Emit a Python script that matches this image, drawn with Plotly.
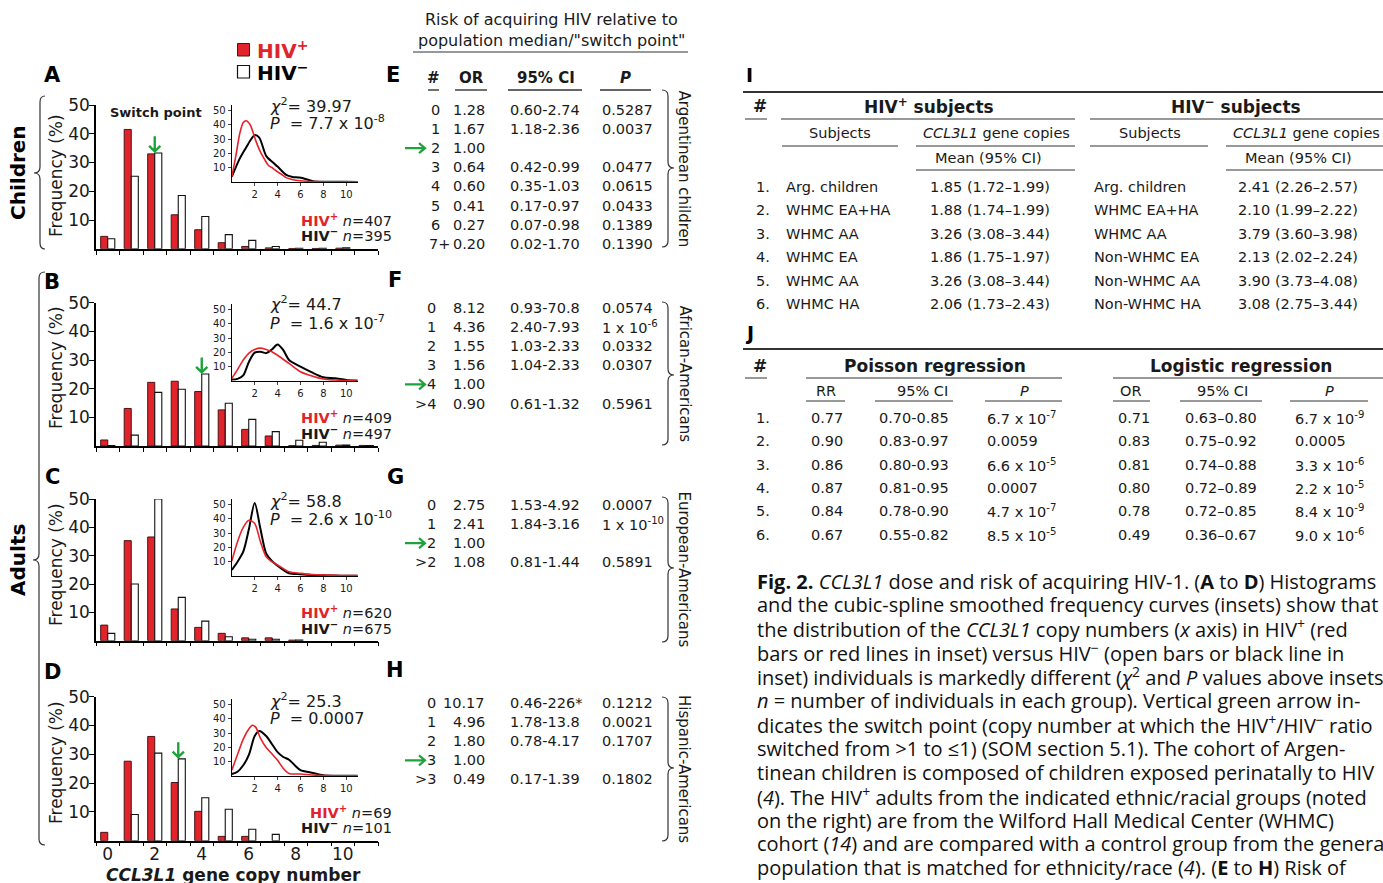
import plotly.graph_objects as go

W, H = 1383, 883
FONT = "DejaVu Sans"
CAPFONT = "Open Sans"
RED = "#e1232b"
GREEN = "#1ea33c"
INK = "#1a1a1a"

# ---------------- data: histograms (A-D) ----------------
copies = list(range(12))
A_pos = [4.3, 41.5, 33.0, 11.8, 6.6, 2.1, 0.8, 0.3, 0.1, 0.1, 0.2, None]
A_neg = [3.5, 25.2, 33.3, 18.5, 11.2, 4.9, 2.9, 0.8, 0.2, 0.2, 0.3, None]
B_pos = [2.1, 13.1, 22.2, 22.6, 19.0, 12.6, 5.8, 3.5, 0.1, 0.2, 0.3, 0.2]
B_neg = [0.2, 3.8, 18.7, 19.8, 25.1, 14.9, 9.3, 5.0, 2.0, 1.3, 0.3, 0.2]
C_pos = [5.5, 35.3, 36.6, 11.2, 4.7, 2.6, 1.0, 1.0, 0.2, None, None, None]
C_neg = [2.6, 20.0, 50.0, 15.3, 6.9, 1.4, 0.5, 0.5, 0.2, None, None, None]
D_pos = [2.9, 27.6, 36.2, 20.2, 10.2, 1.5, 1.5, None, None, None, None, None]
D_neg = [None, 9.1, 30.4, 28.4, 14.9, 10.9, 4.0, 2.2, None, None, None, None]
switch_points = [2, 4, 2, 3]
n_pos = [407, 409, 620, 69]
n_neg = [395, 497, 675, 101]
chi2 = ["39.97", "44.7", "58.8", "25.3"]
pvals = ["7.7 x 10<sup>-8</sup>", "1.6 x 10<sup>-7</sup>", "2.6 x 10<sup>-10</sup>", "0.0007"]
xtick_vals = [0, 2, 4, 6, 8, 10]
ytick_vals = [10, 20, 30, 40, 50]

# ---------------- data: inset smoothed curves ----------------
A_red_x = [0, 0.35, 0.7, 1.0, 1.25, 1.6, 2.1, 2.5, 2.85, 3.2, 3.6, 4.0, 4.4, 4.75, 5.2, 5.6, 6.0, 6.5, 7.4, 8, 9, 10, 11]
A_red_y = [3.5, 18, 34, 41.5, 42.8, 40, 28.7, 21, 15.9, 11.5, 9.5, 7.0, 5.0, 3.0, 1.8, 1.2, 0.8, 0.5, 0.2, 0.1, 0.1, 0.1, 0]
A_blk_x = [0, 0.67, 1.25, 1.7, 2.0, 2.4, 3.0, 3.6, 4.0, 4.75, 5.3, 5.9, 6.5, 7.1, 8, 9, 10, 11]
A_blk_y = [3.5, 15.9, 24, 30, 32.7, 31, 18.2, 13.5, 10.7, 4.9, 3.5, 3.0, 1.9, 0.5, 0.1, 0.1, 0.1, 0]
B_red_x = [0, 0.5, 1, 1.5, 2, 2.5, 3, 3.5, 4, 5, 6, 7, 8, 9, 10, 11]
B_red_y = [1.9, 8, 14.7, 19.5, 22, 23, 22, 20.5, 18, 12.3, 6.5, 3.5, 1.4, 0.7, 0.3, 0]
B_blk_x = [0, 0.5, 1, 1.5, 2, 2.5, 3, 3.5, 4, 4.5, 5, 6, 7, 8, 9, 10, 11]
B_blk_y = [1, 1.5, 4, 13.5, 19.8, 20.5, 19.5, 22, 25.5, 21.6, 14.7, 10, 6, 2.6, 1.9, 0.7, 0.3]
C_red_x = [0, 0.5, 1, 1.5, 2, 2.5, 3, 3.5, 4, 5, 6, 7, 8, 9, 10, 11]
C_red_y = [10.5, 24, 34, 39, 36.7, 24, 13.5, 10, 7.7, 3, 1.9, 1, 0.7, 0.5, 0.3, 0.3]
C_blk_x = [0, 0.5, 1, 1.5, 2, 2.5, 3, 3.5, 4, 4.5, 5, 6, 7, 8, 9, 10, 11]
C_blk_y = [4.2, 10, 17, 33, 51, 33, 15.8, 10.5, 7.2, 4.2, 1.9, 1.2, 0.7, 0.5, 0.3, 0.2, 0.2]
D_red_x = [0, 0.5, 1, 1.5, 1.8, 2.1, 2.5, 3, 3.5, 4, 4.5, 5, 6, 7, 8, 9, 10, 11]
D_red_y = [4.1, 15, 25.8, 33, 35.5, 34, 26.5, 20, 15.5, 11, 5.3, 1.8, 1.4, 0.7, 0.3, 0.2, 0.2, 0.2]
D_blk_x = [0, 0.5, 1, 1.5, 2, 2.4, 3, 3.5, 4, 4.5, 5, 5.5, 6, 7, 8, 9, 10, 11]
D_blk_y = [1.4, 3, 7.5, 15, 28, 31.5, 28, 22.4, 16.7, 13.3, 11.4, 7.5, 4.1, 2.3, 0.5, 0.2, 0.2, 0.2]
inset_xticks = [2, 4, 6, 8, 10]
inset_yticks = [10, 20, 30, 40, 50]

# ---------------- data: risk tables (E-H) ----------------
E_copies = ["0", "1", "2", "3", "4", "5", "6", "7+"]
E_or = ["1.28", "1.67", "1.00", "0.64", "0.60", "0.41", "0.27", "0.20"]
E_ci = ["0.60-2.74", "1.18-2.36", "", "0.42-0.99", "0.35-1.03", "0.17-0.97", "0.07-0.98", "0.02-1.70"]
E_p = ["0.5287", "0.0037", "", "0.0477", "0.0615", "0.0433", "0.1389", "0.1390"]
F_copies = ["0", "1", "2", "3", "4", "&gt;4"]
F_or = ["8.12", "4.36", "1.55", "1.56", "1.00", "0.90"]
F_ci = ["0.93-70.8", "2.40-7.93", "1.03-2.33", "1.04-2.33", "", "0.61-1.32"]
F_p = ["0.0574", "1 x 10<sup>-6</sup>", "0.0332", "0.0307", "", "0.5961"]
G_copies = ["0", "1", "2", "&gt;2"]
G_or = ["2.75", "2.41", "1.00", "1.08"]
G_ci = ["1.53-4.92", "1.84-3.16", "", "0.81-1.44"]
G_p = ["0.0007", "1 x 10<sup>-10</sup>", "", "0.5891"]
H_copies = ["0", "1", "2", "3", "&gt;3"]
H_or = ["10.17", "4.96", "1.80", "1.00", "0.49"]
H_ci = ["0.46-226*", "1.78-13.8", "0.78-4.17", "", "0.17-1.39"]
H_p = ["0.1212", "0.0021", "0.1707", "", "0.1802"]
risk_groups = ["Argentinean children", "African-Americans", "European-Americans", "Hispanic-Americans"]

# ---------------- data: table I ----------------
I_num = ["1.", "2.", "3.", "4.", "5.", "6."]
I_pos_subj = ["Arg. children", "WHMC EA+HA", "WHMC AA", "WHMC EA", "WHMC AA", "WHMC HA"]
I_pos_mean = ["1.85 (1.72–1.99)", "1.88 (1.74–1.99)", "3.26 (3.08–3.44)", "1.86 (1.75–1.97)", "3.26 (3.08–3.44)", "2.06 (1.73–2.43)"]
I_neg_subj = ["Arg. children", "WHMC EA+HA", "WHMC AA", "Non-WHMC EA", "Non-WHMC AA", "Non-WHMC HA"]
I_neg_mean = ["2.41 (2.26–2.57)", "2.10 (1.99–2.22)", "3.79 (3.60–3.98)", "2.13 (2.02–2.24)", "3.90 (3.73–4.08)", "3.08 (2.75–3.44)"]

# ---------------- data: table J ----------------
J_rr = ["0.77", "0.90", "0.86", "0.87", "0.84", "0.67"]
J_rr_ci = ["0.70-0.85", "0.83-0.97", "0.80-0.93", "0.81-0.95", "0.78-0.90", "0.55-0.82"]
J_rr_p = ["6.7 x 10<sup>-7</sup>", "0.0059", "6.6 x 10<sup>-5</sup>", "0.0007", "4.7 x 10<sup>-7</sup>", "8.5 x 10<sup>-5</sup>"]
J_or = ["0.71", "0.83", "0.81", "0.80", "0.78", "0.49"]
J_or_ci = ["0.63–0.80", "0.75–0.92", "0.74–0.88", "0.72–0.89", "0.72–0.85", "0.36–0.67"]
J_or_p = ["6.7 x 10<sup>-9</sup>", "0.0005", "3.3 x 10<sup>-6</sup>", "2.2 x 10<sup>-5</sup>", "8.4 x 10<sup>-9</sup>", "9.0 x 10<sup>-6</sup>"]

caption_lines = [
    "<b>Fig. 2.</b> <i>CCL3L1</i> dose and risk of acquiring HIV-1. (<b>A</b> to <b>D</b>) Histograms",
    "and the cubic-spline smoothed frequency curves (insets) show that",
    "the distribution of the <i>CCL3L1</i> copy numbers (<i>x</i> axis) in HIV<sup>+</sup> (red",
    "bars or red lines in inset) versus HIV<sup>−</sup> (open bars or black line in",
    "inset) individuals is markedly different (<i>χ</i><sup>2</sup> and <i>P</i> values above insets;",
    "<i>n</i> = number of individuals in each group). Vertical green arrow in-",
    "dicates the switch point (copy number at which the HIV<sup>+</sup>/HIV<sup>−</sup> ratio",
    "switched from &gt;1 to ≤1) (SOM section 5.1). The cohort of Argen-",
    "tinean children is composed of children exposed perinatally to HIV",
    "(<i>4</i>). The HIV<sup>+</sup> adults from the indicated ethnic/racial groups (noted",
    "on the right) are from the Wilford Hall Medical Center (WHMC)",
    "cohort (<i>14</i>) and are compared with a control group from the general",
    "population that is matched for ethnicity/race (<i>4</i>). (<b>E</b> to <b>H</b>) Risk of",
]

# ---------------- helpers ----------------
def PX(x):
    return x / W


def PY(y):
    return 1 - y / H


annotations = []
shapes = []


def T(x, y, s, size=14.5, xa="left", color=INK, bold=False, angle=0, family=FONT, ya="middle"):
    if bold:
        s = "<b>" + s + "</b>"
    annotations.append(dict(x=PX(x), y=PY(y), xref="paper", yref="paper", text=s, showarrow=False,
                            xanchor=xa, yanchor=ya, textangle=angle,
                            font=dict(family=family, size=size, color=color)))


def HL(x0, x1, y, width=1.0, color="#333333"):
    shapes.append(dict(type="line", xref="paper", yref="paper", x0=PX(x0), x1=PX(x1), y0=PY(y), y1=PY(y),
                       line=dict(color=color, width=width)))


def brace(xs, y0, y1, ym, tip, point, r=6, color="#333333"):
    p = (f"M {PX(tip)},{PY(y0)} Q {PX(xs)},{PY(y0)} {PX(xs)},{PY(y0 + r)} "
         f"L {PX(xs)},{PY(ym - r)} Q {PX(xs)},{PY(ym)} {PX(point)},{PY(ym)} "
         f"Q {PX(xs)},{PY(ym)} {PX(xs)},{PY(ym + r)} L {PX(xs)},{PY(y1 - r)} "
         f"Q {PX(xs)},{PY(y1)} {PX(tip)},{PY(y1)}")
    shapes.append(dict(type="path", xref="paper", yref="paper", path=p, line=dict(color=color, width=1.2)))


def right_arrow(x0, x1, y):
    p = (f"M {PX(x0)},{PY(y)} L {PX(x1)},{PY(y)} M {PX(x1 - 6)},{PY(y - 5)} L {PX(x1)},{PY(y)} "
         f"L {PX(x1 - 6)},{PY(y + 5)}")
    shapes.append(dict(type="path", xref="paper", yref="paper", path=p, line=dict(color=GREEN, width=2.2)))


# ---------------- figure ----------------
fig = go.Figure()
layout = dict(width=W, height=H, margin=dict(l=0, r=0, t=0, b=0, pad=0, autoexpand=False),
              paper_bgcolor="white", plot_bgcolor="rgba(0,0,0,0)", showlegend=False,
              barmode="group", bargap=0.4, bargroupgap=0)

pos_series = [A_pos, B_pos, C_pos, D_pos]
neg_series = [A_neg, B_neg, C_neg, D_neg]
red_curves = [(A_red_x, A_red_y), (B_red_x, B_red_y), (C_red_x, C_red_y), (D_red_x, D_red_y)]
blk_curves = [(A_blk_x, A_blk_y), (B_blk_x, B_blk_y), (C_blk_x, C_blk_y), (D_blk_x, D_blk_y)]

main_x = (96, 378)
main_y0 = [248.75, 446.0, 640.7, 840.7]
main_y50 = [105.0, 302.7, 499.0, 696.7]
inset_x = (231.8, 357.7)
inset_y0 = [181.9, 381.0, 576.0, 776.0]
inset_pxper = 1.43

panel_letters = ["A", "B", "C", "D"]
letter_y = [75, 282, 477, 672]
chi_y = [105, 303, 500, 700]
p_y = [122, 322, 518, 718]
npos_y = [220, 417, 612, 812]
nneg_y = [235, 433, 628, 827]
freq_y = [176, 368, 565, 763]

minor_vals = [k - 0.5 for k in range(13)]

for i in range(4):
    xa = "x" if i == 0 else f"x{i + 1}"
    ya = "y" if i == 0 else f"y{i + 1}"
    xk = "xaxis" if i == 0 else f"xaxis{i + 1}"
    yk = "yaxis" if i == 0 else f"yaxis{i + 1}"
    fig.add_trace(go.Bar(x=copies, y=pos_series[i], xaxis=xa, yaxis=ya, marker=dict(color=RED, line=dict(color="#4a1414", width=1))))
    fig.add_trace(go.Bar(x=copies, y=neg_series[i], xaxis=xa, yaxis=ya, marker=dict(color="white", line=dict(color="#111111", width=1.1))))
    layout[xk] = dict(domain=[PX(main_x[0]), PX(main_x[1])], range=[-0.5, 11.5], anchor=ya,
                      showline=True, linecolor="black", linewidth=1.5, showgrid=False, zeroline=False,
                      tickmode="array", tickvals=xtick_vals, ticktext=[str(v) for v in xtick_vals],
                      ticks="", showticklabels=(i == 3), automargin=False, ticklabelstandoff=-3,
                      tickfont=dict(family=FONT, size=17, color=INK),
                      minor=dict(tickmode="array", tickvals=minor_vals, ticks="outside", ticklen=4,
                                 tickcolor="black", tickwidth=1, showgrid=False))
    layout[yk] = dict(domain=[PY(main_y0[i]), PY(main_y50[i])], range=[0, 50], anchor=xa,
                      showline=True, linecolor="black", linewidth=1.5, showgrid=False, zeroline=False,
                      tickmode="array", tickvals=ytick_vals, ticks="outside", ticklen=5, tickwidth=1,
                      automargin=False, ticklabelstandoff=-4, tickcolor="black",
                      tickfont=dict(family=FONT, size=17, color=INK))

    j = i + 4
    xa2 = f"x{j + 1}"
    ya2 = f"y{j + 1}"
    fig.add_trace(go.Scatter(x=blk_curves[i][0], y=blk_curves[i][1], xaxis=xa2, yaxis=ya2, mode="lines",
                             line=dict(color="black", width=2, shape="spline", smoothing=0.8)))
    fig.add_trace(go.Scatter(x=red_curves[i][0], y=red_curves[i][1], xaxis=xa2, yaxis=ya2, mode="lines",
                             line=dict(color="#e8222a", width=1.6, shape="spline", smoothing=0.8)))
    layout[f"xaxis{j + 1}"] = dict(domain=[PX(inset_x[0]), PX(inset_x[1])], range=[0, 11], anchor=ya2,
                                   showline=True, linecolor="black", linewidth=1.2, showgrid=False,
                                   zeroline=False, tickmode="array", tickvals=inset_xticks, ticks="outside",
                                   ticklen=3, tickwidth=1, automargin=False,
                                   tickfont=dict(family=FONT, size=10, color=INK))
    layout[f"yaxis{j + 1}"] = dict(domain=[PY(inset_y0[i]), PY(inset_y0[i] - 54 * inset_pxper)], range=[0, 54],
                                   anchor=xa2, showline=True, linecolor="black", linewidth=1.2, showgrid=False,
                                   zeroline=False, tickmode="array", tickvals=inset_yticks, ticks="outside",
                                   ticklen=3, tickwidth=1, automargin=False,
                                   tickfont=dict(family=FONT, size=10, color=INK))

    sp = switch_points[i]
    top = max(v for v in (pos_series[i][sp], neg_series[i][sp]) if v is not None) + 0.6
    ln = 7 if i == 2 else 5.2
    path = (f"M {sp},{top + ln} L {sp},{top} M {sp - 0.24},{top + 1.9} L {sp},{top} "
            f"L {sp + 0.24},{top + 1.9}")
    shapes.append(dict(type="path", xref=xa, yref=ya, path=path, line=dict(color=GREEN, width=2.4)))

    T(52, letter_y[i], panel_letters[i], size=21, xa="center", bold=True, color="black")
    T(56, freq_y[i], "Frequency (%)", size=17, xa="center", angle=-90)
    T(268, chi_y[i], f"<i>χ</i><sup>2</sup>= {chi2[i]}", size=16)
    T(268, p_y[i], f"<i>P</i>  = {pvals[i]}", size=16)
    T(394, npos_y[i], f"<span style='color:{RED}'><b>HIV<sup>+</sup></b></span> <i>n</i>={n_pos[i]}", size=14.5, xa="right")
    T(394, nneg_y[i], f"<b>HIV<sup>−</sup></b> <i>n</i>={n_neg[i]}", size=14.5, xa="right")

T(108, 113, "Switch point", size=13, bold=True)
T(233, 875, "<i>CCL3L1</i> gene copy number", size=17, xa="center", bold=True)

shapes.append(dict(type="rect", xref="paper", yref="paper", x0=PX(237.5), x1=PX(249.5), y0=PY(56), y1=PY(43.5),
                   fillcolor=RED, line=dict(color="#4a1414", width=1)))
shapes.append(dict(type="rect", xref="paper", yref="paper", x0=PX(237.5), x1=PX(249.5), y0=PY(78), y1=PY(65.5),
                   fillcolor="white", line=dict(color="#111111", width=1.2)))
T(255, 50, f"<span style='color:{RED}'>HIV<sup>+</sup></span>", size=20, bold=True)
T(255, 72, "HIV<sup>−</sup>", size=20, bold=True, color="black")

brace(40, 96, 249, 173, tip=45, point=34)
T(18, 173, "Children", size=20, xa="center", bold=True, angle=-90, color="black")
brace(39, 272, 845, 560, tip=45, point=33)
T(18, 560, "Adults", size=20, xa="center", bold=True, angle=-90, color="black")

# ---------------- tables E-H ----------------
T(551, 20, "Risk of acquiring HIV relative to", size=16, xa="center")
T(551, 40, "population median/\"switch point\"", size=16, xa="center")
HL(413, 688, 52, width=1.2)
T(433, 78, "#", size=15, xa="center", bold=True)
T(471, 78, "OR", size=15, xa="center", bold=True)
T(546, 78, "95% CI", size=15, xa="center", bold=True)
T(625, 78, "<i>P</i>", size=15, xa="center", bold=True)
HL(428, 439, 90, width=1.4)
HL(455, 487, 90, width=1.4)
HL(508, 582, 90, width=1.4)
HL(600, 651, 90, width=1.4)

tables = [
    (E_copies, E_or, E_ci, E_p, 110, 90, 247, 168, 393, 75, "E"),
    (F_copies, F_or, F_ci, F_p, 308, 302, 445, 375, 395, 280, "F"),
    (G_copies, G_or, G_ci, G_p, 505, 497, 642, 568, 395, 477, "G"),
    (H_copies, H_or, H_ci, H_p, 703, 697, 841, 768, 395, 670, "H"),
]
row_step = 19.1
for k, (cp, orr, ci, pv, y_first, b0, b1, bm, lx, ly, letter) in enumerate(tables):
    T(lx, ly, letter, size=21, xa="center", bold=True, color="black")
    for r in range(len(cp)):
        yy = y_first + r * row_step
        if k == 0:
            T(427 if len(cp[r]) > 1 else 429, yy, cp[r], size=14.5, xa="left")
        else:
            T(438, yy, cp[r], size=14.5, xa="right")
        T(487, yy, orr[r], size=14.5, xa="right")
        if ci[r]:
            T(508, yy, ci[r], size=14.5)
        if pv[r]:
            T(600, yy, pv[r], size=14.5)
        if orr[r] == "1.00":
            right_arrow(405, 425, yy)
    p = (f"M {PX(662)},{PY(b0)} Q {PX(668)},{PY(b0)} {PX(668)},{PY(b0 + 6)} "
         f"L {PX(668)},{PY(bm - 6)} Q {PX(668)},{PY(bm)} {PX(674)},{PY(bm)} "
         f"Q {PX(668)},{PY(bm)} {PX(668)},{PY(bm + 6)} L {PX(668)},{PY(b1 - 6)} "
         f"Q {PX(668)},{PY(b1)} {PX(662)},{PY(b1)}")
    shapes.append(dict(type="path", xref="paper", yref="paper", path=p, line=dict(color="#333333", width=1.2)))
    T(684, (b0 + b1) / 2, risk_groups[k], size=15, xa="center", angle=90)

# ---------------- table I ----------------
T(749, 75, "I", size=19, xa="center", bold=True, color="black")
HL(743, 1383, 92, width=2)
T(760, 106, "#", size=17, xa="center", bold=True)
T(929, 106, "HIV<sup>+</sup> subjects", size=17, xa="center", bold=True)
T(1236, 106, "HIV<sup>−</sup> subjects", size=17, xa="center", bold=True)
HL(745, 767, 119)
HL(781, 1075, 119)
HL(1090, 1383, 119)
T(840, 133, "Subjects", size=14.5, xa="center")
T(996, 133, "<i>CCL3L1</i> gene copies", size=14.5, xa="center")
T(1150, 133, "Subjects", size=14.5, xa="center")
T(1306, 133, "<i>CCL3L1</i> gene copies", size=14.5, xa="center")
HL(782, 898, 146)
HL(916, 1075, 146)
HL(1090, 1208, 146)
HL(1226, 1383, 146)
T(988, 158, "Mean (95% CI)", size=14.5, xa="center")
T(1298, 158, "Mean (95% CI)", size=14.5, xa="center")
HL(916, 1075, 170)
HL(1226, 1383, 170)
I_rows_y0, I_step = 187, 23.4
for r in range(len(I_num)):
    yy = I_rows_y0 + r * I_step
    T(754, yy, I_num[r], size=14.5)
    T(784, yy, I_pos_subj[r], size=14.5)
    T(928, yy, I_pos_mean[r], size=14.5)
    T(1092, yy, I_neg_subj[r], size=14.5)
    T(1236, yy, I_neg_mean[r], size=14.5)

# ---------------- table J ----------------
T(749, 333, "J", size=19, xa="center", bold=True, color="black")
HL(743, 1383, 349, width=2)
T(760, 366, "#", size=17, xa="center", bold=True)
T(935, 366, "Poisson regression", size=17, xa="center", bold=True)
T(1241, 366, "Logistic regression", size=17, xa="center", bold=True)
HL(745, 767, 378)
HL(806, 1062, 378)
HL(1113, 1383, 378)
for cx, s in [(826, "RR"), (922, "95% CI"), (1024, "<i>P</i>"), (1131, "OR"), (1222, "95% CI"), (1329, "<i>P</i>")]:
    T(cx, 391, s, size=14.5, xa="center")
for a, b in [(806, 845), (875, 953), (985, 1062), (1113, 1150), (1180, 1262), (1290, 1368)]:
    HL(a, b, 401)
J_rows_y0, J_step = 418, 23.3
for r in range(len(J_rr)):
    yy = J_rows_y0 + r * J_step
    T(754, yy, I_num[r], size=14.5)
    T(809, yy, J_rr[r], size=14.5)
    T(877, yy, J_rr_ci[r], size=14.5)
    T(985, yy, J_rr_p[r], size=14.5)
    T(1116, yy, J_or[r], size=14.5)
    T(1183, yy, J_or_ci[r], size=14.5)
    T(1293, yy, J_or_p[r], size=14.5)

# ---------------- caption ----------------
cap_y0, cap_step = 581, 23.9
for r, line in enumerate(caption_lines):
    T(755, cap_y0 + r * cap_step, line, size=20, family=CAPFONT, color="#111111")

layout["annotations"] = annotations
layout["shapes"] = shapes
fig.update_layout(**layout)

fig.write_html("out.html", config={"displayModeBar": False},
               post_script="document.body.style.margin='0';document.body.style.overflow='hidden';")
